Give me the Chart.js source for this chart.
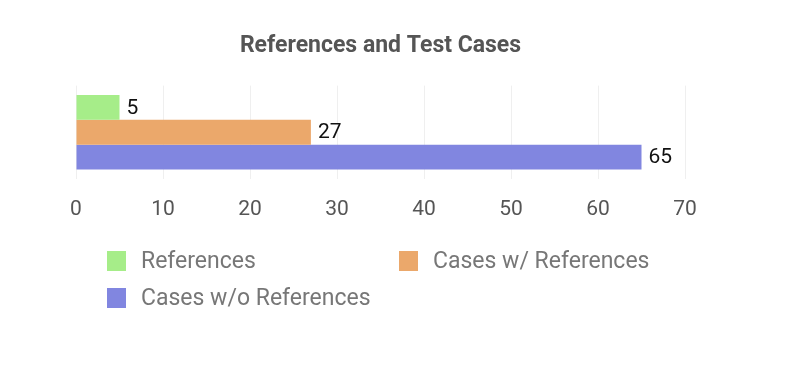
<!DOCTYPE html>
<html>
<head>
<meta charset="utf-8">
<script src="https://cdn.jsdelivr.net/npm/chart.js@4/dist/chart.umd.min.js"></script>
<style>
  html, body { margin: 0; padding: 0; background: #fff; }
  #wrap { width: 786px; height: 386px; }
</style>
</head>
<body>
<div id="wrap"><canvas id="chart" width="786" height="386"></canvas></div>
<script>
// data
const categories = [''];
const seriesNames = ['References', 'Cases w/ References', 'Cases w/o References'];
const seriesValues = [5, 27, 65];
const seriesColors = ['#a6ed89', '#eba86b', '#8186e0'];
const xMin = 0, xMax = 70, xStep = 10;

const fontFamily = "'Roboto', 'Noto Sans', sans-serif";

// numbers at the end of each bar
const valueLabels = {
  id: 'valueLabels',
  afterDatasetsDraw(chart) {
    const ctx = chart.ctx;
    ctx.save();
    ctx.font = `21px ${fontFamily}`;
    ctx.fillStyle = '#111';
    ctx.textBaseline = 'middle';
    ctx.textAlign = 'left';
    chart.data.datasets.forEach((ds, i) => {
      chart.getDatasetMeta(i).data.forEach((bar, j) => {
        ctx.fillText(String(ds.data[j]), bar.x + 7, bar.y + 1);
      });
    });
    ctx.restore();
  }
};

// two column legend under the axis
const gridLegend = {
  id: 'gridLegend',
  afterDraw(chart, args, opts) {
    const ctx = chart.ctx;
    ctx.save();
    ctx.font = `23px ${fontFamily}`;
    ctx.textBaseline = 'middle';
    ctx.textAlign = 'left';
    chart.data.datasets.forEach((ds, i) => {
      const col = i % opts.cols.length;
      const row = Math.floor(i / opts.cols.length);
      const x = opts.cols[col];
      const y = opts.rows[row];
      ctx.fillStyle = ds.backgroundColor;
      ctx.fillRect(x, y - 10, 19, 20);
      ctx.fillStyle = '#777';
      ctx.fillText(ds.label, x + 34, y + 1);
    });
    ctx.restore();
  }
};

new Chart(document.getElementById('chart'), {
  type: 'bar',
  data: {
    labels: categories,
    datasets: seriesNames.map((name, i) => ({
      label: name,
      data: [seriesValues[i]],
      backgroundColor: seriesColors[i],
      barPercentage: 1,
      categoryPercentage: 0.8
    }))
  },
  options: {
    indexAxis: 'y',
    responsive: false,
    animation: false,
    layout: { padding: { left: 76, right: 101, top: 0, bottom: 146 } },
    plugins: {
      legend: { display: false },
      tooltip: { enabled: false },
      title: {
        display: true,
        text: 'References and Test Cases',
        color: '#555',
        font: { family: fontFamily, size: 23, weight: 'bold' },
        padding: { top: 32, bottom: 26 }
      },
      gridLegend: { cols: [107, 399], rows: [261, 298] }
    },
    scales: {
      x: {
        min: xMin, max: xMax,
        ticks: { stepSize: xStep, color: '#555', padding: 18, font: { family: fontFamily, size: 21 } },
        grid: { color: '#efefef', drawTicks: false },
        border: { display: false }
      },
      y: { display: false }
    }
  },
  plugins: [valueLabels, gridLegend]
});
</script>
</body>
</html>
